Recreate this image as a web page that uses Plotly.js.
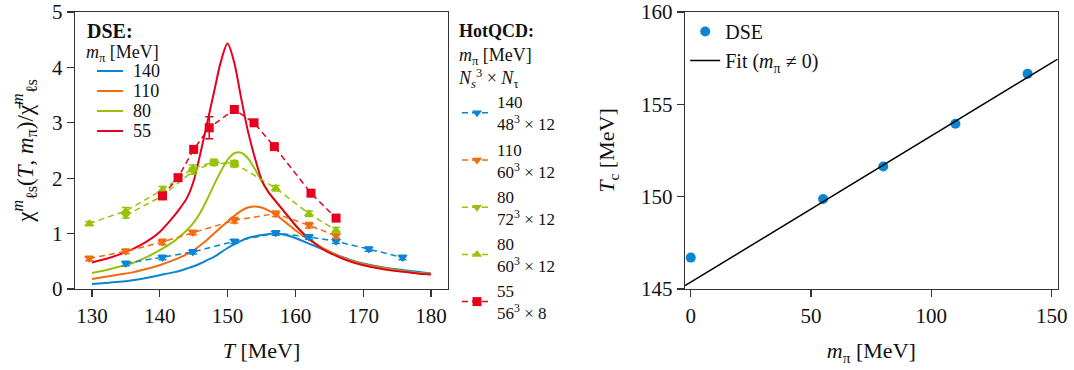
<!DOCTYPE html>
<html>
<head>
<meta charset="utf-8">
<script src="https://cdn.plot.ly/plotly-3.0.1.min.js"></script>
<style>
html,body{margin:0;padding:0;background:#fff;}
#chart{width:1074px;height:370px;}
</style>
</head>
<body>
<div id="chart"></div>
<script>
// ---------- DSE curves (left panel) ----------
const dseT = [130,132,134,136,138,140,142,143,144,145,146,147,148,149,150,151,152,153,154,155,156,157,158,159,160,161,162,164,166,168,170,172,174,176,178,180];
const dse140 = [0.09,0.11,0.13,0.16,0.20,0.25,0.30,0.33,0.37,0.41,0.46,0.52,0.58,0.66,0.74,0.81,0.87,0.92,0.95,0.975,0.99,1.00,0.99,0.96,0.92,0.87,0.82,0.72,0.62,0.53,0.46,0.41,0.37,0.34,0.31,0.28];
const dse110 = [0.18,0.22,0.26,0.30,0.36,0.43,0.52,0.57,0.63,0.70,0.79,0.89,1.00,1.11,1.22,1.32,1.41,1.47,1.49,1.47,1.42,1.35,1.26,1.16,1.06,0.97,0.89,0.74,0.62,0.52,0.45,0.40,0.36,0.32,0.29,0.27];
const dse80  = [0.29,0.34,0.40,0.47,0.57,0.70,0.85,0.95,1.06,1.20,1.38,1.62,1.88,2.12,2.33,2.45,2.46,2.36,2.17,1.95,1.76,1.60,1.45,1.30,1.16,1.03,0.91,0.73,0.61,0.51,0.44,0.39,0.35,0.32,0.29,0.27];
const dse55  = [0.48,0.54,0.62,0.72,0.85,1.03,1.30,1.46,1.64,1.95,2.45,3.00,3.55,4.10,4.43,4.08,3.45,2.85,2.38,1.98,1.75,1.60,1.45,1.30,1.15,1.02,0.91,0.72,0.60,0.50,0.43,0.38,0.34,0.31,0.28,0.26];
const dseNames = ['140','110','80','55'];

// ---------- HotQCD lattice data (left panel) ----------
const q140T = [135.0,140.4,144.9,151.0,157.1,162.0,166.0,170.8,175.8];
const q140V = [0.46,0.57,0.67,0.86,1.01,0.94,0.86,0.72,0.57];
const q140E = [0.04,0.04,0.04,0.04,0.04,0.04,0.04,0.04,0.04];

const q110T = [129.6,135.0,140.4,144.9,151.0,157.1,162.0,166.0];
const q110V = [0.55,0.68,0.85,1.02,1.24,1.36,1.15,0.96];
const q110E = [0.04,0.04,0.05,0.04,0.05,0.05,0.05,0.04];

const q80aT = [135.0,140.4,144.9,148.0,151.0];
const q80aV = [1.33,1.68,2.13,2.28,2.25];
const q80aE = [0.05,0.05,0.06,0.05,0.05];

const q80bT = [129.6,135.0,140.4,144.9,148.0,151.0,157.1,162.0,166.0];
const q80bV = [1.18,1.41,1.79,2.18,2.29,2.27,1.82,1.36,1.06];
const q80bE = [0.04,0.06,0.06,0.06,0.05,0.05,0.05,0.05,0.05];

const q55T = [140.4,142.7,145.0,147.3,151.0,153.9,156.9,162.3,166.0];
const q55V = [1.68,2.01,2.52,2.91,3.24,3.00,2.57,1.73,1.28];
const q55E = [0.05,0.04,0.06,0.20,0.05,0.04,0.04,0.05,0.05];

// ---------- Right panel ----------
const mpi = [0,55,80,110,140];
const Tc = [146.7,149.87,151.63,153.95,156.65];
const fitM = [-2.4,152.5];
const fitTc = [145.18,157.45];

// ---------- ticks ----------
const xTicksL = [130,140,150,160,170,180];
const yTicksL = [0,1,2,3,4,5];
const xTicksR = [0,50,100,150];
const yTicksR = [145,150,155,160];

const C = {blue:'#0a85d3', orange:'#f26b0f', green:'#98c10a', red:'#e6001e'};
const dseCols = [C.blue, C.orange, C.green, C.red];
const FONT = 'Liberation Serif, Times New Roman, serif';

const traces = [];
function dseLine(y, name, col){
  return {x:dseT, y:y, name:name, type:'scatter', mode:'lines', xaxis:'x', yaxis:'y',
    line:{color:col, width:2, shape:'spline', smoothing:0.8}, showlegend:false, hoverinfo:'skip'};
}
[dse140,dse110,dse80,dse55].forEach((d,i)=>traces.push(dseLine(d,dseNames[i],dseCols[i])));

function lat(x,y,e,name,col,sym){
  return {x:x, y:y, name:name, type:'scatter', mode:'lines+markers', xaxis:'x', yaxis:'y',
    line:{color:col, width:1.5, dash:'6px,4px'},
    marker:{color:col, symbol:sym, size:9},
    error_y:{type:'data', array:e, visible:true, color:col, thickness:1.5, width:4},
    legend:'legend2'};
}
traces.push(lat(q140T,q140V,q140E,'140<br>48<sup>3</sup> × 12',C.blue,'triangle-down'));
traces.push(lat(q110T,q110V,q110E,'110<br>60<sup>3</sup> × 12',C.orange,'triangle-down'));
traces.push(lat(q80aT,q80aV,q80aE,'80<br>72<sup>3</sup> × 12',C.green,'triangle-down'));
traces.push(lat(q80bT,q80bV,q80bE,'80<br>60<sup>3</sup> × 12',C.green,'triangle-up'));
traces.push(lat(q55T,q55V,q55E,'55<br>56<sup>3</sup> × 8',C.red,'square'));

traces.push({x:mpi, y:Tc, name:'DSE', type:'scatter', mode:'markers', xaxis:'x2', yaxis:'y2',
  marker:{color:C.blue, size:10}, legend:'legend3'});
traces.push({x:fitM, y:fitTc, name:'Fit (<i>m</i><sub>π</sub> ≠ 0)', type:'scatter', mode:'lines', xaxis:'x2', yaxis:'y2',
  line:{color:'#000', width:1.5}, legend:'legend3'});

const axBase = {showgrid:false, zeroline:false, showline:true, mirror:true, linecolor:'#333', linewidth:1.3,
  ticks:'outside', ticklen:7, tickwidth:1.3, tickcolor:'#333', ticklabeloverflow:'allow',
  tickfont:{family:FONT, size:21, color:'#111'}};

// ---------- manual DSE legend (left panel) ----------
const W = 1074, T0 = 12, B0 = 289;
const py = p => (B0 - p) / (B0 - T0);   // pixel row -> paper y
const px = p => p / W;                  // pixel column -> paper x
const annotations = [
  {text:'<b>DSE:</b>', x:px(85), y:py(31), xref:'paper', yref:'paper', xanchor:'left', yanchor:'middle', showarrow:false, font:{family:FONT,size:20,color:'#111'}},
  {text:'<i>m</i><sub>π</sub> [MeV]', x:px(84), y:py(53), xref:'paper', yref:'paper', xanchor:'left', yanchor:'middle', showarrow:false, font:{family:FONT,size:18,color:'#111'}}
];
const shapes = [];
const rows = [71,91,111,131];
dseNames.forEach((n,i)=>{
  annotations.push({text:n, x:px(131), y:py(rows[i]), xref:'paper', yref:'paper', xanchor:'left', yanchor:'middle', showarrow:false, font:{family:FONT,size:18,color:'#111'}});
  shapes.push({type:'line', xref:'paper', yref:'paper', x0:px(97), x1:px(123), y0:py(rows[i]), y1:py(rows[i]), line:{color:dseCols[i], width:2}});
});

const layout = {
  width:1074, height:370, margin:{l:0,r:0,t:T0,b:370-B0},
  paper_bgcolor:'#fff', plot_bgcolor:'#fff',
  font:{family:FONT, color:'#111'},
  xaxis: Object.assign({}, axBase, {domain:[0.0698,0.4171], range:[127.5,182.5], tickvals:xTicksL, anchor:'y',
    title:{text:'<i>T</i> [MeV]', font:{family:FONT,size:22}, standoff:16}}),
  yaxis: Object.assign({}, axBase, {domain:[0,1], range:[0,5], tickvals:yTicksL, anchor:'x',
    title:{text:'χ<sup><i>m</i></sup><sub>ℓs</sub>(<i>T</i>, <i>m</i><sub>π</sub>)/χ̄<sup><i>m</i></sup><sub>ℓs</sub>', font:{family:FONT,size:23}, standoff:12}}),
  xaxis2: Object.assign({}, axBase, {domain:[0.6378,0.9848], range:[-2.4,152.5], tickvals:xTicksR, anchor:'y2',
    title:{text:'<i>m</i><sub>π</sub> [MeV]', font:{family:FONT,size:22}, standoff:16}}),
  yaxis2: Object.assign({}, axBase, {domain:[0,1], range:[145,160], tickvals:yTicksR, anchor:'x2',
    title:{text:'<i>T</i><sub>c</sub> [MeV]', font:{family:FONT,size:22}, standoff:20}}),
  legend2:{x:0.4255, y:py(14), xanchor:'left', yanchor:'top', bgcolor:'rgba(0,0,0,0)', maxheight:400,
    font:{family:FONT,size:17}, itemwidth:30, tracegroupgap:0,
    title:{text:'<b>HotQCD:</b><br><i>m</i><sub>π</sub> [MeV]<br><i>N</i><sub><i>s</i></sub><sup>3</sup> × <i>N</i><sub>τ</sub>', font:{family:FONT,size:18}}},
  legend3:{x:0.638, y:py(12), xanchor:'left', yanchor:'top', bgcolor:'rgba(0,0,0,0)', maxheight:400,
    font:{family:FONT,size:20}, itemwidth:30, tracegroupgap:0},
  annotations: annotations,
  shapes: shapes,
  showlegend:true
};

Plotly.newPlot('chart', traces, layout, {staticPlot:true, displayModeBar:false});
</script>
</body>
</html>
